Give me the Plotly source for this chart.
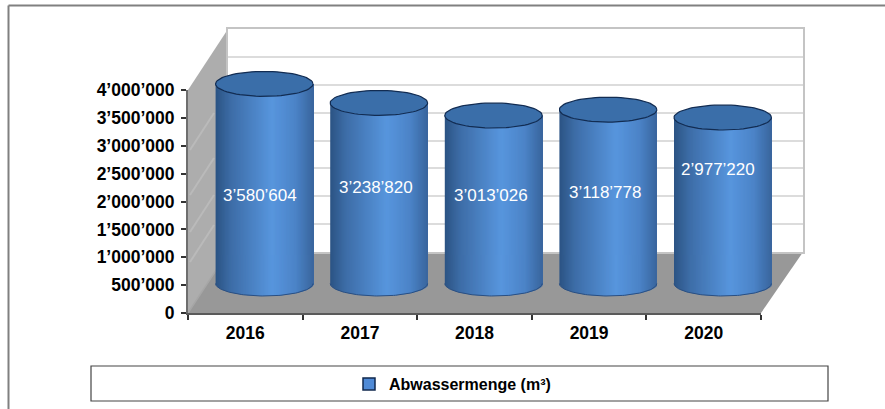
import math
import plotly.graph_objects as go

# ---- data ----
years = ["2016", "2017", "2018", "2019", "2020"]
abwassermenge = [3580604, 3238820, 3013026, 3118778, 2977220]
value_labels = ["3’580’604", "3’238’820", "3’013’026", "3’118’778", "2’977’220"]
y_ticks = [0, 500000, 1000000, 1500000, 2000000, 2500000, 3000000, 3500000, 4000000]
y_tick_labels = ["0", "500’000", "1’000’000", "1’500’000", "2’000’000",
                 "2’500’000", "3’000’000", "3’500’000", "4’000’000"]
series_name = "Abwassermenge (m³)"

# ---- layout constants (pixels in the 885x409 page) ----
W, H = 885, 409
FONT = "Liberation Sans, Arial, sans-serif"
AX_L, AX_R, AX_T, AX_B = 188, 761, 90, 313      # front axes
WALL_L, WALL_R, WALL_T, WALL_B = 228, 803, 29, 252  # back wall
CYL_DX, CYL_DY = 19, 29.5                       # cylinder depth offset
CYL_W = 0.85                                    # width in category units
CYL_RY = 12.5                                   # ellipse half height, px
N_STRIPS = 97
YMAX = y_ticks[-1]


def px(x):
    return x / W


def py(y):
    return 1 - y / H


units_per_px = YMAX / (AX_B - AX_T)
ry = CYL_RY * units_per_px
y_floor = -CYL_DY * units_per_px
half = CYL_W / 2


def lerp(a, b, t):
    return tuple(a[i] + (b[i] - a[i]) * t for i in range(3))


def ramp(t):
    stops = [(0.0, (44, 84, 132)), (0.16, (62, 110, 168)), (0.58, (88, 150, 222)),
             (0.82, (76, 132, 200)), (1.0, (58, 102, 158))]
    for (t0, c0), (t1, c1) in zip(stops, stops[1:]):
        if t <= t1:
            c = lerp(c0, c1, (t - t0) / (t1 - t0))
            return "rgb(%d,%d,%d)" % c
    return "rgb(58,102,158)"


fig = go.Figure()

# Back wall subplot (drawn first so its gridlines stay behind everything)
fig.add_trace(go.Scatter(x=years, y=[None] * len(years), xaxis="x", yaxis="y",
                         showlegend=False, hoverinfo="skip"))

# Front axes + legend entry
fig.add_trace(go.Bar(x=years, y=[None] * len(years), xaxis="x2", yaxis="y2",
                     name=series_name, showlegend=True,
                     marker=dict(color="#4f8ad6", line=dict(color="#10284e", width=1.5))))

# Cylinder bodies: narrow bars forming a horizontal gradient with a curved base
idx = list(range(len(years)))
for s in range(N_STRIPS):
    u0 = -1 + 2 * s / N_STRIPS
    u1 = -1 + 2 * (s + 1) / N_STRIPS
    um = (u0 + u1) / 2
    drop = ry * math.sqrt(max(0, 1 - um * um))
    width = (u1 - u0) * half * (2 if s < N_STRIPS - 1 else 1)
    fig.add_trace(go.Bar(
        x=idx, y=[v + drop for v in abwassermenge], base=[-drop] * len(idx),
        offset=u0 * half, width=width,
        xaxis="x3", yaxis="y3", showlegend=False, hoverinfo="skip",
        marker=dict(color=ramp((um + 1) / 2), line=dict(width=0))))

# Cylinder tops and base arcs
N_ELL = 72
for i, v in enumerate(abwassermenge):
    ts = [2 * math.pi * k / N_ELL for k in range(N_ELL + 1)]
    fig.add_trace(go.Scatter(
        x=[i + half * math.cos(t) for t in ts], y=[v + ry * math.sin(t) for t in ts],
        mode="lines", fill="toself", fillcolor="#3a6ea9",
        line=dict(color="#122c52", width=1.2), xaxis="x3", yaxis="y3",
        showlegend=False, hoverinfo="skip"))
    ts = [math.pi + math.pi * k / N_ELL for k in range(N_ELL + 1)]
    fig.add_trace(go.Scatter(
        x=[i + half * math.cos(t) for t in ts], y=[ry * math.sin(t) for t in ts],
        mode="lines", line=dict(color="#2a4f82", width=1), xaxis="x3", yaxis="y3",
        showlegend=False, hoverinfo="skip"))

# Value labels
label_shift_x = [-4, -3, -3, -3, -5]
label_shift_y = [-12, 6, 4.5, 4.5, 31.5]
annotations = [
    dict(x=i, y=v / 2, xref="x3", yref="y3", text=value_labels[i], showarrow=False,
         xshift=label_shift_x[i], yshift=label_shift_y[i],
         font=dict(family=FONT, size=17, color="white"))
    for i, v in enumerate(abwassermenge)
]

# Decoration shapes


def poly(points, fill, layer="below"):
    path = "M " + " L ".join(f"{px(x):.5f},{py(y):.5f}" for x, y in points) + " Z"
    return dict(type="path", xref="paper", yref="paper", path=path, fillcolor=fill,
                line=dict(width=0), layer=layer)


def seg(x0, y0, x1, y1, color, width=2):
    return dict(type="line", xref="paper", yref="paper", x0=px(x0), y0=py(y0),
                x1=px(x1), y1=py(y1), line=dict(color=color, width=width), layer="below")


shapes = [
    poly([(AX_L, AX_T), (WALL_L, WALL_T), (WALL_L, WALL_B), (AX_L, AX_B)], "#adadad"),
    poly([(AX_L, AX_B), (WALL_L, WALL_B), (WALL_R, WALL_B), (AX_R, AX_B)], "#989898"),
]
for y0 in (150, 195, 232, 262):
    shapes.append(seg(AX_L + 2, y0, AX_L + 26, y0 - 37, "#bababa", 2))
shapes += [
    seg(AX_L, AX_B, WALL_L, WALL_B, "#a6a6a6", 1.5),
    seg(8.5, 5.5, 885, 5.5, "#808080"),
    seg(8.5, 5.5, 8.5, 409, "#808080"),
    dict(type="rect", xref="paper", yref="paper", x0=px(91), x1=px(828), y0=py(401),
         y1=py(366), line=dict(color="#444444", width=1.2), fillcolor="white", layer="below"),
]

tick_font = dict(family=FONT, size=17.5, color="#000000", weight="bold")

fig.update_layout(
    width=W, height=H, autosize=False,
    margin=dict(l=0, r=0, t=0, b=0, pad=0, autoexpand=False),
    paper_bgcolor="white", plot_bgcolor="rgba(0,0,0,0)",
    barmode="overlay",
    shapes=shapes, annotations=annotations,
    legend=dict(x=px(349), xanchor="left", y=py(384), yanchor="middle",
                orientation="h", bgcolor="rgba(0,0,0,0)", borderwidth=0,
                font=dict(family=FONT, size=16, color="#000000", weight="bold")),
    # back wall
    xaxis=dict(domain=[px(WALL_L), px(WALL_R)], type="category", categoryorder="array",
               categoryarray=years, range=[-0.5, 4.5], showticklabels=False, ticks="",
               showgrid=False, zeroline=False, showline=True, mirror=True,
               linecolor="#c4c4c4", linewidth=2, anchor="y"),
    yaxis=dict(domain=[py(WALL_B), py(WALL_T)], range=[0, YMAX], tickvals=y_ticks,
               showticklabels=False, ticks="", showgrid=True, gridcolor="#dcdcdc",
               gridwidth=2, zeroline=False, showline=True, mirror=True,
               linecolor="#c4c4c4", linewidth=2, anchor="x"),
    # front labelled axes
    xaxis2=dict(domain=[px(AX_L), px(AX_R)], type="category", categoryorder="array",
                categoryarray=years, range=[-0.5, 4.5], tickson="boundaries",
                ticks="outside", ticklen=5, tickwidth=1.5, tickcolor="#333333",
                showline=True, linecolor="#5a5a5a", linewidth=2, showgrid=False,
                zeroline=False, tickfont=tick_font, anchor="y2", ticklabelstandoff=3),
    yaxis2=dict(domain=[py(AX_B), py(AX_T)], range=[0, YMAX], tickvals=y_ticks,
                ticktext=y_tick_labels, ticks="outside", ticklen=5, tickwidth=1.5,
                tickcolor="#333333", showline=True, linecolor="#6e6e6e", linewidth=2,
                showgrid=False, zeroline=False, tickfont=tick_font, anchor="x2",
                ticklabelstandoff=3),
    # cylinders, shifted into the depth of the floor
    xaxis3=dict(domain=[px(AX_L + CYL_DX), px(AX_R + CYL_DX)], range=[-0.5, 4.5],
                visible=False, anchor="y3"),
    yaxis3=dict(domain=[py(AX_B), py(AX_T - CYL_DY)], range=[y_floor, YMAX],
                visible=False, anchor="x3"),
)

fig.write_html("out.html", config={"displayModeBar": False},
               post_script="document.body.style.margin='0';document.body.style.overflow='hidden';")
